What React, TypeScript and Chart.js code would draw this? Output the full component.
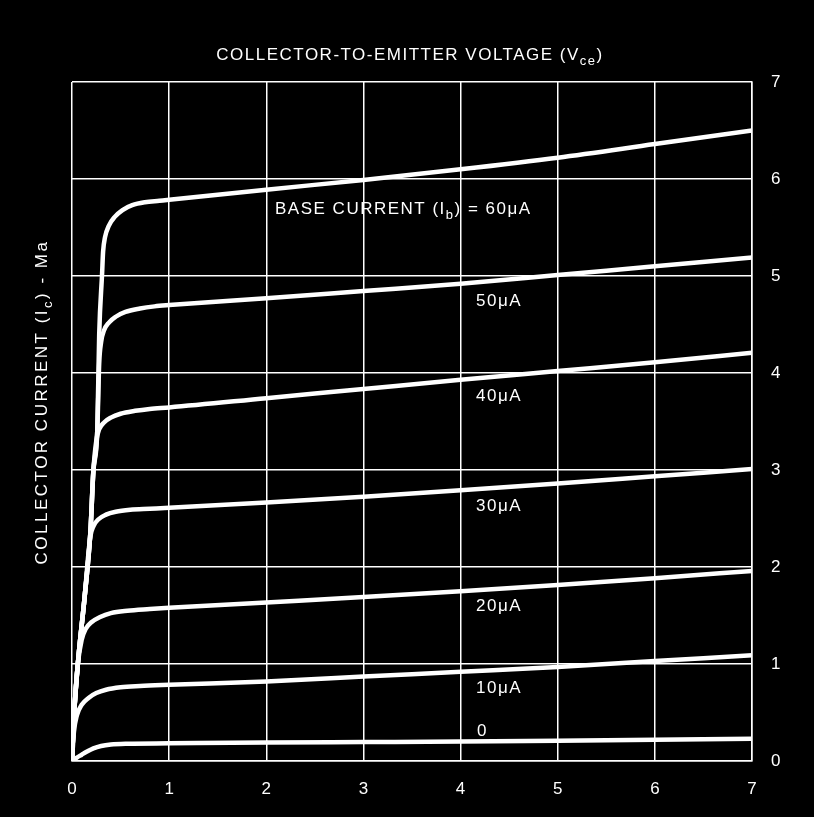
import React, { useEffect, useRef } from "react";
import { Chart, registerables } from "chart.js";

Chart.register(...registerables);

// ---- Data (Vce in volts, Ic in mA) ----
const ib0: [number, number][] = [
  [0, 0], [0.05, 0.035], [0.1, 0.065], [0.15, 0.095], [0.22, 0.13], [0.3, 0.155],
  [0.4, 0.17], [0.57, 0.178], [1, 0.182], [2, 0.19], [3, 0.195], [4, 0.2],
  [5, 0.21], [6, 0.22], [7, 0.23],
];
const ib10: [number, number][] = [
  [0, 0], [0.02, 0.3], [0.05, 0.47], [0.1, 0.58], [0.17, 0.65], [0.25, 0.7],
  [0.35, 0.735], [0.5, 0.76], [0.7, 0.773], [1, 0.785], [2, 0.82], [3, 0.87],
  [4, 0.92], [5, 0.97], [6, 1.03], [7, 1.09],
];
const ib20: [number, number][] = [
  [0, 0], [0.02, 0.45], [0.06, 1.0], [0.1, 1.25], [0.14, 1.36], [0.2, 1.43],
  [0.29, 1.485], [0.4, 1.525], [0.57, 1.55], [0.8, 1.567], [1, 1.58], [2, 1.635],
  [3, 1.69], [4, 1.75], [5, 1.815], [6, 1.885], [7, 1.96],
];
const ib30: [number, number][] = [
  [0, 0], [0.02, 0.45], [0.06, 1.0], [0.13, 1.69], [0.17, 2.15], [0.19, 2.32],
  [0.22, 2.42], [0.27, 2.49], [0.35, 2.54], [0.45, 2.57], [0.6, 2.59], [0.8, 2.6],
  [1, 2.61], [2, 2.665], [3, 2.725], [4, 2.79], [5, 2.86], [6, 2.935], [7, 3.01],
];
const ib40: [number, number][] = [
  [0, 0], [0.02, 0.45], [0.06, 1.0], [0.13, 1.69], [0.19, 2.37], [0.22, 2.99],
  [0.25, 3.3], [0.28, 3.42], [0.33, 3.49], [0.4, 3.54], [0.5, 3.58], [0.65, 3.61],
  [0.8, 3.63], [1, 3.645], [2, 3.74], [3, 3.835], [4, 3.93], [5, 4.02],
  [6, 4.11], [7, 4.21],
];
const ib50: [number, number][] = [
  [0, 0], [0.02, 0.45], [0.06, 1.0], [0.13, 1.69], [0.19, 2.37], [0.22, 2.99],
  [0.26, 3.4], [0.28, 4.1], [0.3, 4.32], [0.33, 4.44], [0.38, 4.52], [0.45, 4.58],
  [0.55, 4.63], [0.7, 4.665], [0.85, 4.687], [1, 4.7], [2, 4.77], [3, 4.845],
  [4, 4.92], [5, 5.01], [6, 5.1], [7, 5.19],
];
const ib60: [number, number][] = [
  [0, 0], [0.02, 0.45], [0.06, 1.0], [0.13, 1.69], [0.19, 2.37], [0.22, 2.99],
  [0.26, 3.4], [0.28, 4.4], [0.31, 5.03], [0.32, 5.25], [0.34, 5.4], [0.38, 5.52],
  [0.44, 5.61], [0.52, 5.68], [0.62, 5.73], [0.75, 5.76], [0.9, 5.775], [1, 5.785],
  [2, 5.89], [3, 5.99], [4, 6.1], [5, 6.22], [6, 6.36], [7, 6.5],
];
const seriesList = [ib0, ib10, ib20, ib30, ib40, ib50, ib60];

const xTickLabels = ["0", "1", "2", "3", "4", "5", "6", "7"];
const yTickLabels = ["0", "1", "2", "3", "4", "5", "6", "7"];

type Seg = { t: string; sub?: boolean };
const titleText: Seg[] = [{ t: "COLLECTOR-TO-EMITTER VOLTAGE (V" }, { t: "ce", sub: true }, { t: ")" }];
const yTitleText: Seg[] = [{ t: "COLLECTOR CURRENT (I" }, { t: "c", sub: true }, { t: ") - Ma" }];

// curve labels: text, anchor Vce, anchor Ic
const curveLabels: { segs: Seg[]; x: number; y: number }[] = [
  { segs: [{ t: "BASE CURRENT (I" }, { t: "b", sub: true }, { t: ") = 60μA" }], x: 2.09, y: 5.69 },
  { segs: [{ t: "50μA" }], x: 4.16, y: 4.74 },
  { segs: [{ t: "40μA" }], x: 4.16, y: 3.76 },
  { segs: [{ t: "30μA" }], x: 4.16, y: 2.63 },
  { segs: [{ t: "20μA" }], x: 4.16, y: 1.59 },
  { segs: [{ t: "10μA" }], x: 4.16, y: 0.75 },
  { segs: [{ t: "0" }], x: 4.17, y: 0.31 },
];

const FONT = '"Liberation Sans", Arial, sans-serif';

function drawRich(
  ctx: CanvasRenderingContext2D,
  segs: Seg[],
  x: number,
  y: number,
  size: number,
  spacing: number,
  align: "left" | "center"
) {
  const widths = segs.map((s) => {
    ctx.font = `${s.sub ? Math.round(size * 0.75) : size}px ${FONT}`;
    (ctx as any).letterSpacing = `${spacing}px`;
    return ctx.measureText(s.t).width;
  });
  const total = widths.reduce((a, b) => a + b, 0);
  let cx = align === "center" ? x - total / 2 : x;
  ctx.textAlign = "left";
  ctx.textBaseline = "middle";
  segs.forEach((s, i) => {
    ctx.font = `${s.sub ? Math.round(size * 0.75) : size}px ${FONT}`;
    (ctx as any).letterSpacing = `${spacing}px`;
    ctx.fillText(s.t, cx, s.sub ? y + size * 0.4 : y);
    cx += widths[i];
  });
}

const textPlugin = {
  id: "textPlugin",
  afterDraw(chart: any) {
    const ctx: CanvasRenderingContext2D = chart.ctx;
    const xs = chart.scales.x;
    const ys = chart.scales.y;
    ctx.save();
    ctx.fillStyle = "#ffffff";
    drawRich(ctx, titleText, 410, 55, 17, 1.5, "center");
    curveLabels.forEach((l) => {
      drawRich(ctx, l.segs, xs.getPixelForValue(l.x), ys.getPixelForValue(l.y), 17, 1.5, "left");
    });
    ctx.translate(42, 402);
    ctx.rotate(-Math.PI / 2);
    drawRich(ctx, yTitleText, 0, 0, 17, 2.5, "center");
    ctx.restore();
  },
};

export default function App() {
  const ref = useRef<HTMLCanvasElement | null>(null);
  useEffect(() => {
    if (!ref.current) return;
    const chart = new Chart(ref.current, {
      type: "scatter",
      data: {
        datasets: seriesList.map((s) => ({
          data: s.map(([x, y]) => ({ x, y })),
          showLine: true,
          borderColor: "#ffffff",
          borderWidth: 4.5,
          pointRadius: 0,
          cubicInterpolationMode: "monotone" as const,
          borderCapStyle: "round" as const,
          borderJoinStyle: "round" as const,
          fill: false,
        })),
      },
      options: {
        responsive: false,
        animation: false,
        events: [],
        layout: { padding: { left: 72, top: 82, right: 0, bottom: 0 } },
        plugins: { legend: { display: false }, tooltip: { enabled: false }, title: { display: false } },
        scales: {
          x: {
            type: "linear",
            min: 0,
            max: 7,
            position: "bottom",
            afterFit: (a: any) => {
              a.height = 56;
            },
            grid: { color: "#ffffff", lineWidth: 1.5, drawTicks: false },
            border: { color: "#ffffff", width: 1.5 },
            ticks: {
              stepSize: 1,
              color: "#ffffff",
              padding: 18,
              font: { family: FONT, size: 17 },
              callback: (_v: any, i: number) => xTickLabels[i],
            },
          },
          y: {
            type: "linear",
            min: 0,
            max: 7,
            position: "right",
            afterFit: (a: any) => {
              a.width = 62;
            },
            grid: { color: "#ffffff", lineWidth: 1.5, drawTicks: false },
            border: { color: "#ffffff", width: 1.5 },
            ticks: {
              stepSize: 1,
              color: "#ffffff",
              padding: 19,
              font: { family: FONT, size: 17 },
              callback: (_v: any, i: number) => yTickLabels[i],
            },
          },
        },
      },
      plugins: [textPlugin],
    });
    return () => chart.destroy();
  }, []);
  return (
    <div style={{ position: "fixed", left: 0, top: 0, width: 814, height: 817, background: "#000" }}>
      <canvas ref={ref} width={814} height={817} style={{ display: "block" }} />
    </div>
  );
}
